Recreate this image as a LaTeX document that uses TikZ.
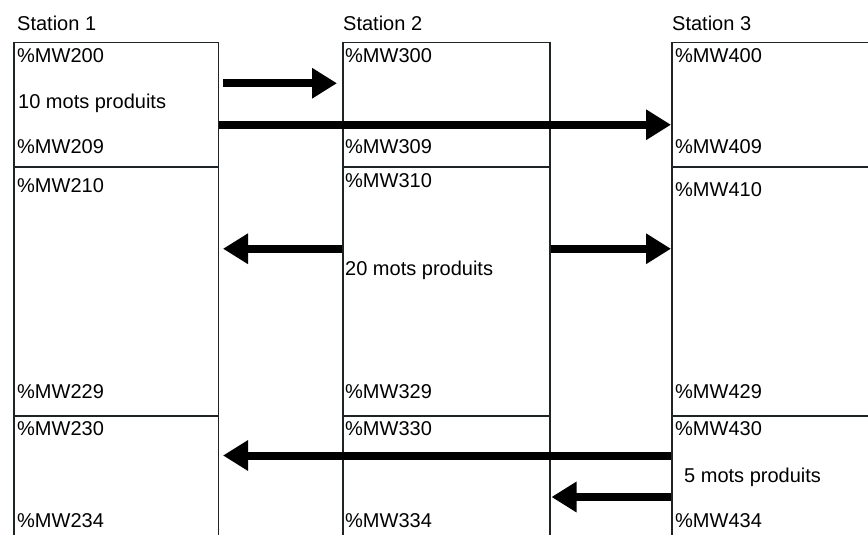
\documentclass[tikz,border=0pt]{standalone}
\usepackage{fontspec}
\setmainfont{Liberation Sans}
\usetikzlibrary{arrows.meta}

\definecolor{rule}{HTML}{1E2426}

\tikzset{
  cell/.style={draw=rule, line width=1.5pt, rectangle, inner sep=0pt,
               anchor=north west, minimum height=#1},
  col1/.style={minimum width=204.5pt},
  col2/.style={minimum width=207pt},
  col3/.style={minimum width=220pt},
  lbl/.style={anchor=base west, inner sep=0pt, text=black,
              font=\fontsize{20pt}{24pt}\selectfont},
  bigarrow/.style={line width=8pt, line cap=butt, black,
                   -{Triangle[length=25pt,width=29pt]}}
}

\begin{document}
\begin{tikzpicture}[x=1pt,y=-1pt]
  \useasboundingbox (0,0) rectangle (868,535);
  \clip (0,0) rectangle (868,535);

  % memory word blocks of the three stations
  \node[cell=124pt, col1] (s1a) at (13,42)  {};
  \node[cell=249pt, col1] (s1b) at (13,166) {};
  \node[cell=140pt, col1] (s1c) at (13,415) {};

  \node[cell=124pt, col2] (s2a) at (342,42)  {};
  \node[cell=249pt, col2] (s2b) at (342,166) {};
  \node[cell=140pt, col2] (s2c) at (342,415) {};

  \node[cell=124pt, col3] (s3a) at (671,42)  {};
  \node[cell=249pt, col3] (s3b) at (671,166) {};
  \node[cell=140pt, col3] (s3c) at (671,415) {};

  % station titles
  \node[lbl] (t1) at (17,31)  {Station 1};
  \node[lbl] (t2) at (343,31) {Station 2};
  \node[lbl] (t3) at (672,31) {Station 3};

  % station 1 addresses
  \node[lbl] (a200) at (17,63)  {\%MW200};
  \node[lbl] (p10)  at (18,108) {10 mots produits};
  \node[lbl] (a209) at (17,153) {\%MW209};
  \node[lbl] (a210) at (17,192) {\%MW210};
  \node[lbl] (a229) at (17,398) {\%MW229};
  \node[lbl] (a230) at (17,435) {\%MW230};
  \node[lbl] (a234) at (17,527) {\%MW234};

  % station 2 addresses
  \node[lbl] (a300) at (345,63)  {\%MW300};
  \node[lbl] (a309) at (345,153) {\%MW309};
  \node[lbl] (a310) at (345,187) {\%MW310};
  \node[lbl] (p20)  at (345,275) {20 mots produits};
  \node[lbl] (a329) at (345,398) {\%MW329};
  \node[lbl] (a330) at (345,435) {\%MW330};
  \node[lbl] (a334) at (345,527) {\%MW334};

  % station 3 addresses
  \node[lbl] (a400) at (675,63)  {\%MW400};
  \node[lbl] (a409) at (675,153) {\%MW409};
  \node[lbl] (a410) at (675,196) {\%MW410};
  \node[lbl] (a429) at (675,398) {\%MW429};
  \node[lbl] (a430) at (675,435) {\%MW430};
  \node[lbl] (p5)   at (684,482) {5 mots produits};
  \node[lbl] (a434) at (675,527) {\%MW434};

  % data exchanges
  \draw[bigarrow] ([xshift=4pt,yshift=21.5pt]s1a.east) -- ([xshift=-5pt,yshift=21.5pt]s2a.west);
  \draw[bigarrow] ([yshift=-20pt]s1a.east) -- ([yshift=-20pt]s3a.west);
  \draw[bigarrow] ([yshift=42.5pt]s2b.west) -- ([xshift=4pt,yshift=42.5pt]s1b.east);
  \draw[bigarrow] ([yshift=42.5pt]s2b.east) -- ([yshift=42.5pt]s3b.west);
  \draw[bigarrow] ([yshift=-40.5pt]s3c.north west) -- ([xshift=4pt,yshift=-40.5pt]s1c.north east);
  \draw[bigarrow] ([yshift=-82pt]s3c.north west) -- ([xshift=1pt,yshift=-82pt]s2c.north east);
\end{tikzpicture}
\end{document}
